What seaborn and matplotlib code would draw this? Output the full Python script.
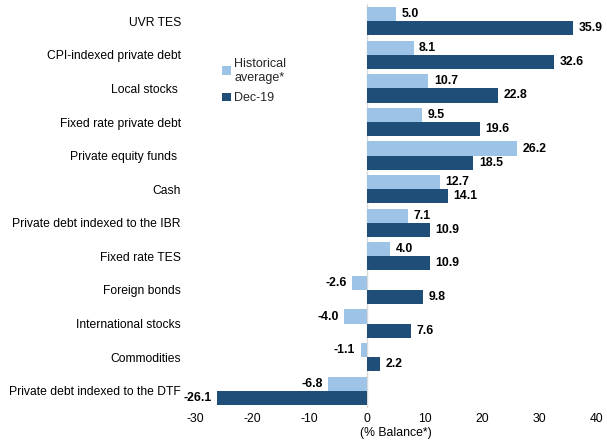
import matplotlib
matplotlib.use("Agg")
import matplotlib.pyplot as plt
import seaborn as sns
import pandas as pd
from matplotlib.patches import Patch

categories = [
    "UVR TES", "CPI-indexed private debt", "Local stocks ", "Fixed rate private debt",
    "Private equity funds ", "Cash", "Private debt indexed to the IBR", "Fixed rate TES",
    "Foreign bonds", "International stocks", "Commodities", "Private debt indexed to the DTF",
]
historical = [5.0, 8.1, 10.7, 9.5, 26.2, 12.7, 7.1, 4.0, -2.6, -4.0, -1.1, -6.8]
dec19 = [35.9, 32.6, 22.8, 19.6, 18.5, 14.1, 10.9, 10.9, 9.8, 7.6, 2.2, -26.1]
series_names = ["Historical\naverage*", "Dec-19"]
xticks = [-30, -20, -10, 0, 10, 20, 30, 40]

light_blue = "#9DC3E6"
dark_blue = "#1F4E79"

df = pd.DataFrame({
    "category": categories * 2,
    "value": historical + dec19,
    "series": [series_names[0]] * len(categories) + [series_names[1]] * len(categories),
})

sns.set_theme(style="white")
plt.rcParams["font.family"] = ["Liberation Sans", "DejaVu Sans"]

fig = plt.figure(figsize=(6.07, 4.43), dpi=100)
ax = fig.add_axes([0.321, 0.08, 0.662, 0.91])

sns.barplot(data=df, y="category", x="value", hue="series", order=categories,
            hue_order=series_names, palette=[light_blue, dark_blue],
            orient="h", width=0.84, dodge=True, legend=False, ax=ax,
            linewidth=0, saturation=1)

for cont in ax.containers:
    ax.bar_label(cont, fmt="%.1f", padding=4, fontsize=8.8, fontweight="bold", color="#000000")

ax.axvline(0, color="#D9D9D9", linewidth=1, zorder=0)
ax.set_xlim(-30, 40)
ax.set_ylim(len(categories) - 0.5, -0.5)
ax.set_xticks(xticks)
ax.set_xticklabels([str(t) for t in xticks], fontsize=8.8, color="#000000")
ax.tick_params(axis="y", labelsize=8.7, colors="#000000", length=0, pad=10)
ax.tick_params(axis="x", length=0, pad=4)
ax.set_ylabel("")
ax.set_xlabel("(% Balance*)", fontsize=8.8, color="#000000", labelpad=1.5)
for s in ax.spines.values():
    s.set_visible(False)

handles = [Patch(facecolor=light_blue, edgecolor="none"),
           Patch(facecolor=dark_blue, edgecolor="none")]
fig.legend(handles, series_names, loc="center left", bbox_to_anchor=(0.347, 0.817),
           frameon=False, fontsize=9, handlelength=0.7, handleheight=0.7,
           handletextpad=0.3, labelspacing=0.7)

fig.savefig("out.png", dpi=100)
